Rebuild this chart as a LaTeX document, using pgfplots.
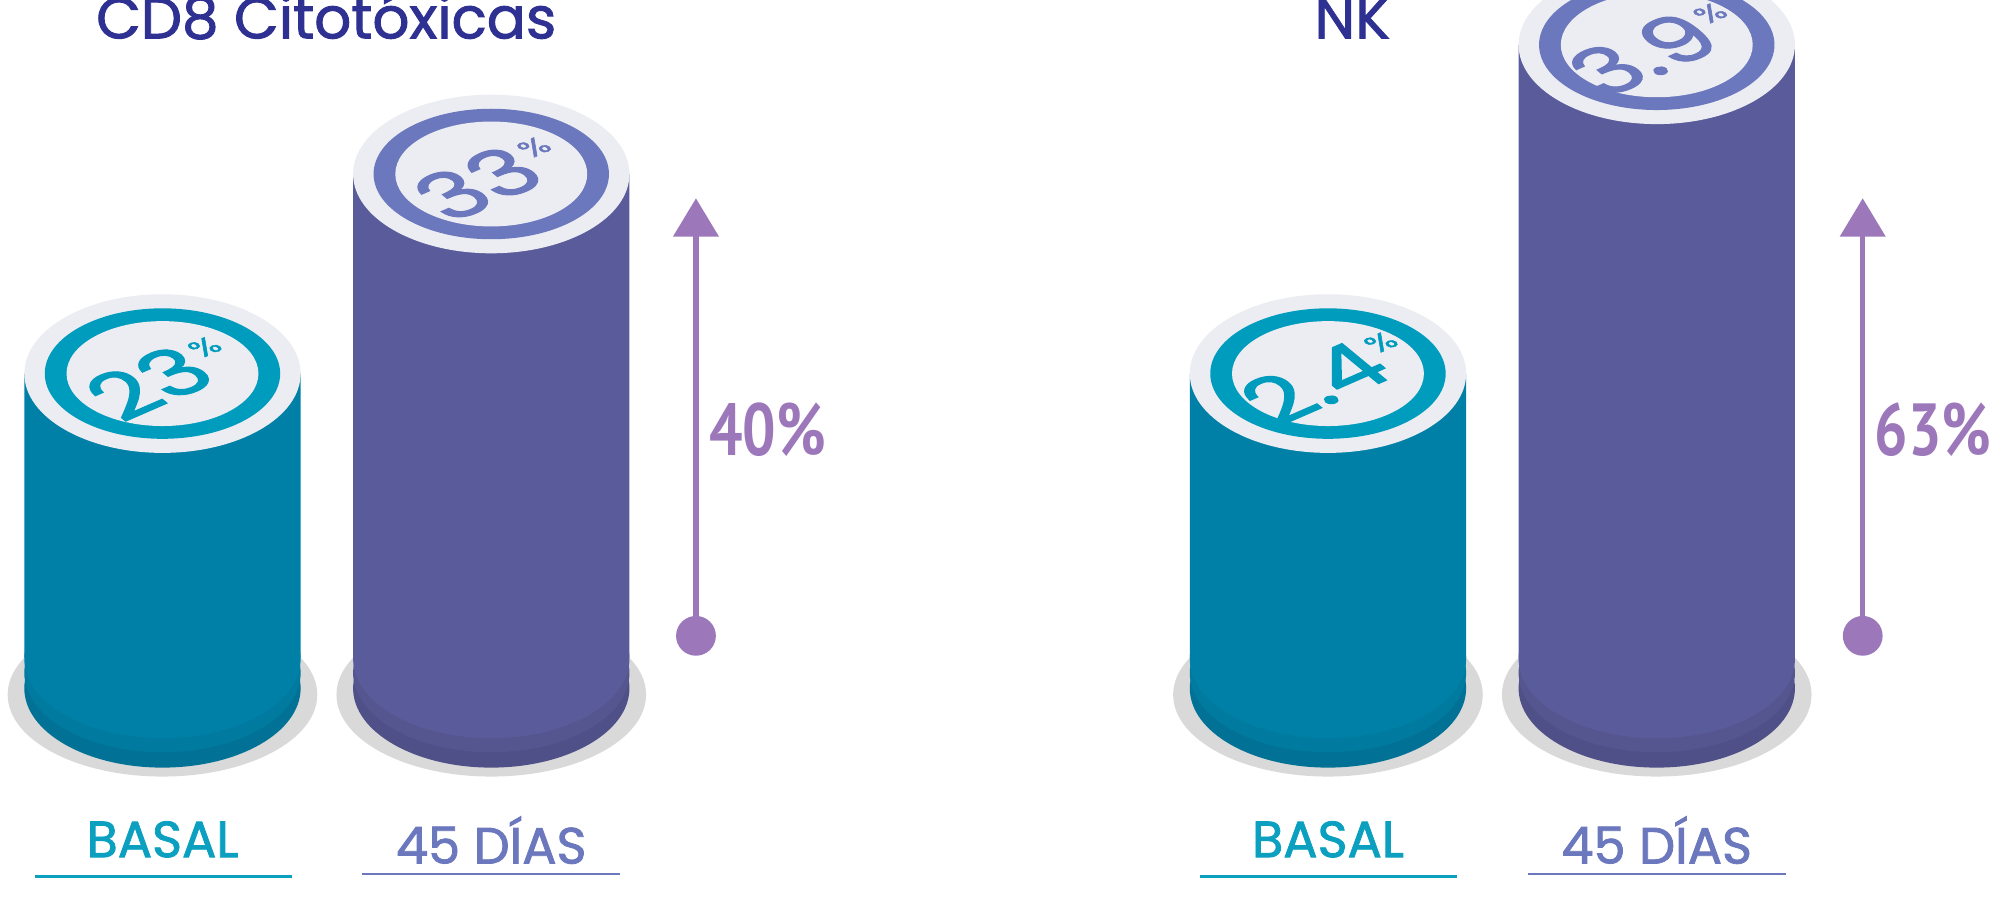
\documentclass[border=0pt]{standalone}
\usepackage{pgfplots}
\pgfplotsset{compat=1.18}
\usepackage{pgfplotstable}
\usetikzlibrary{arrows.meta}
\usepackage{fontspec}
\setmainfont{Poppins}
\newfontfamily\medfont[FakeBold=1.6]{Poppins}
\newfontfamily\pctfont[FakeStretch=0.8]{PT Sans}
\definecolor{tealbody}{HTML}{0180A7}
\definecolor{tealmid}{HTML}{017A9F}
\definecolor{tealdark}{HTML}{017295}
\definecolor{tealring}{HTML}{009CBE}
\definecolor{purpbody}{HTML}{5A5B9A}
\definecolor{purpmid}{HTML}{555690}
\definecolor{purpdark}{HTML}{4F5088}
\definecolor{purpring}{HTML}{6B78BD}
\definecolor{toplight}{HTML}{ECEDF3}
\definecolor{shadowgrey}{HTML}{D9D9D9}
\definecolor{titleblue}{HTML}{2E3192}
\definecolor{arrowpurp}{HTML}{9C78BB}
\definecolor{basaltext}{HTML}{0BA0C0}

\def\U{0.364pt}
\pgfdeclareplotmark{disc}{\pgfpathellipse{\pgfpointorigin}{\pgfpoint{108*\U}{0pt}}{\pgfpoint{0pt}{62*\U}}\pgfusepathqfill}
\pgfdeclareplotmark{ring}{\pgfpathellipse{\pgfpointorigin}{\pgfpoint{92*\U}{0pt}}{\pgfpoint{0pt}{51*\U}}\pgfusepathqfill}
\pgfdeclareplotmark{inner}{\pgfpathellipse{\pgfpointorigin}{\pgfpoint{75*\U}{0pt}}{\pgfpoint{0pt}{41*\U}}\pgfusepathqfill}
\pgfdeclareplotmark{shadowmark}{\pgfpathellipse{\pgfpointorigin}{\pgfpoint{121*\U}{0pt}}{\pgfpoint{0pt}{64*\U}}\pgfusepathqfill}

% x = centre of cylinder, h = drawn height of cylinder, val = value shown on top (%)
\pgfplotstableread{
x    h    val
127  246  23
1038 246  2.4
}\basal
\pgfplotstableread{
x    h    val
384  402  33
1295 503  3.9
}\dias

\newcommand\topval{{\medfont\fontsize{30}{30}\selectfont\pgfplotspointmeta}\hspace{0.12em}{\medfont\fontsize{11}{11}\selectfont\raisebox{1.05em}{\%}}}

\begin{document}
\begin{tikzpicture}
\begin{axis}[
  x=0.364pt, y=0.364pt,
  xmin=0, xmax=1568, ymin=-173, ymax=538,
  hide axis, clip=false,
]
% shadows
\addplot[only marks, mark=shadowmark, mark options={fill=shadowgrey, draw=none}] table[x=x, y expr=-5]{\basal};
\addplot[only marks, mark=shadowmark, mark options={fill=shadowgrey, draw=none}] table[x=x, y expr=-5]{\dias};
% bodies
\addplot[ybar, bar width=216, bar shift=0pt, fill=tealbody, draw=none] table[x=x, y=h]{\basal};
\addplot[ybar, bar width=216, bar shift=0pt, fill=purpbody, draw=none] table[x=x, y=h]{\dias};
% bottoms
\addplot[only marks, mark=disc, mark options={fill=tealdark, draw=none}] table[x=x, y expr=0]{\basal};
\addplot[only marks, mark=disc, mark options={fill=tealmid, draw=none}] table[x=x, y expr=12]{\basal};
\addplot[only marks, mark=disc, mark options={fill=tealbody, draw=none}] table[x=x, y expr=23]{\basal};
\addplot[only marks, mark=disc, mark options={fill=purpdark, draw=none}] table[x=x, y expr=0]{\dias};
\addplot[only marks, mark=disc, mark options={fill=purpmid, draw=none}] table[x=x, y expr=12]{\dias};
\addplot[only marks, mark=disc, mark options={fill=purpbody, draw=none}] table[x=x, y expr=23]{\dias};
% tops
\addplot[only marks, mark=disc, mark options={fill=toplight, draw=none}] table[x=x, y=h]{\basal};
\addplot[only marks, mark=ring, mark options={fill=tealring, draw=none}] table[x=x, y=h]{\basal};
\addplot[only marks, mark=inner, mark options={fill=toplight, draw=none}] table[x=x, y=h]{\basal};
\addplot[only marks, mark=disc, mark options={fill=toplight, draw=none}] table[x=x, y=h]{\dias};
\addplot[only marks, mark=ring, mark options={fill=purpring, draw=none}] table[x=x, y=h]{\dias};
\addplot[only marks, mark=inner, mark options={fill=toplight, draw=none}] table[x=x, y=h]{\dias};
% values on tops
\addplot[draw=none, mark=none, point meta=explicit symbolic,
  nodes near coords={\topval},
  every node near coord/.append style={anchor=center, yshift=-1pt, yscale=0.6, rotate=36, text=tealring, inner sep=0pt}]
  table[x=x, y=h, meta=val]{\basal};
\addplot[draw=none, mark=none, point meta=explicit symbolic,
  nodes near coords={\topval},
  every node near coord/.append style={anchor=center, yshift=-1pt, yscale=0.6, rotate=36, text=purpring, inner sep=0pt}]
  table[x=x, y=h, meta=val]{\dias};
% increase arrows
\addplot[arrowpurp, line width=1.456pt, -{Triangle[width=12.74pt, length=10.92pt]}] coordinates {(544,41) (544,383)};
\addplot[only marks, mark=*, mark size=5.46pt, arrowpurp] coordinates {(544,41)};
\addplot[arrowpurp, line width=1.456pt, -{Triangle[width=12.74pt, length=10.92pt]}] coordinates {(1456,41) (1456,383)};
\addplot[only marks, mark=*, mark size=5.46pt, arrowpurp] coordinates {(1456,41)};
% underlines
\addplot[basaltext, line width=0.73pt] coordinates {(27,-147) (228,-147)};
\addplot[purpring, line width=0.73pt] coordinates {(283,-145) (485,-145)};
\addplot[basaltext, line width=0.73pt] coordinates {(938,-147) (1139,-147)};
\addplot[purpring, line width=0.73pt] coordinates {(1194,-145) (1396,-145)};
% texts
\node[anchor=base, text=titleblue, font=\medfont\fontsize{16.5}{16.5}\selectfont] at (axis cs:255,508) {CD8 Citotóxicas};
\node[anchor=base, text=titleblue, font=\medfont\fontsize{16.5}{16.5}\selectfont] at (axis cs:1057,508) {NK};
\node[anchor=base, text=basaltext, font=\medfont\fontsize{14.5}{14.5}\selectfont] at (axis cs:127,-132) {BASAL};
\node[anchor=base, text=purpring, font=\medfont\fontsize{14.5}{14.5}\selectfont] at (axis cs:384,-137) {45 DÍAS};
\node[anchor=base, text=basaltext, font=\medfont\fontsize{14.5}{14.5}\selectfont] at (axis cs:1038,-132) {BASAL};
\node[anchor=base, text=purpring, font=\medfont\fontsize{14.5}{14.5}\selectfont] at (axis cs:1295,-137) {45 DÍAS};
\node[anchor=center, text=arrowpurp, font=\pctfont\bfseries\fontsize{21}{21}\selectfont] at (axis cs:600,202) {40\%};
\node[anchor=center, text=arrowpurp, font=\pctfont\bfseries\fontsize{21}{21}\selectfont] at (axis cs:1511,202) {63\%};
\end{axis}
\pgfresetboundingbox
\path[use as bounding box] (0,0) rectangle (570.752pt,258.804pt);
\end{tikzpicture}
\end{document}
